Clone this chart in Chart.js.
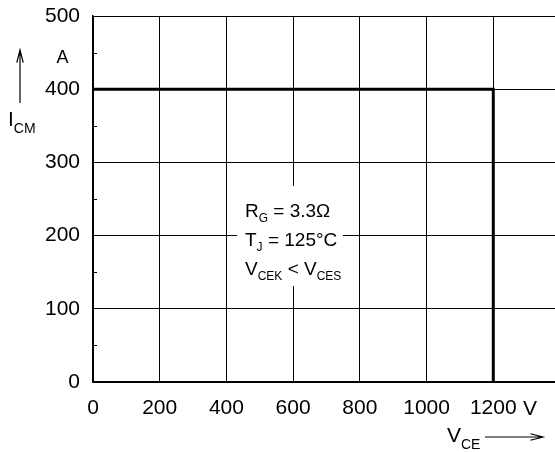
<!DOCTYPE html>
<html>
<head>
<meta charset="utf-8">
<script src="https://cdn.jsdelivr.net/npm/chart.js@4/dist/chart.umd.min.js"></script>
<style>
  html, body { margin: 0; padding: 0; background: #fff; overflow: hidden; }
  #soa { display: block; }
</style>
</head>
<body>
<canvas id="soa" width="560" height="452" style="width:560px;height:452px"></canvas>
<script>
// safe operating area: V_CE (V) vs I_CM (A)
const vce = [0, 1200, 1200];
const icm = [400, 400, 0];
const xTicks = [0, 200, 400, 600, 800, 1000, 1200, 1400];
const yTicks = [0, 100, 200, 300, 400, 500];
const notes = [
    ['R', 'G', ' = 3.3\u03A9'],
    ['T', 'J', ' = 125\u00B0C'],
    ['V', 'CEK', ' < V', 'CES']
];

const FONT = '"Liberation Sans", Arial, Helvetica, sans-serif';

// text with subscripts: parts alternate main / sub
function subText(ctx, parts, x, y, size, subSize, drop) {
    let cx = x;
    parts.forEach((p, i) => {
        const sub = i % 2 === 1;
        ctx.font = (sub ? subSize : size) + 'px ' + FONT;
        ctx.fillText(p, cx, sub ? y + drop : y);
        cx += ctx.measureText(p).width;
    });
}

function arrow(ctx, x1, y1, x2, y2) {
    const a = Math.atan2(y2 - y1, x2 - x1);
    ctx.beginPath();
    ctx.moveTo(x1, y1);
    ctx.lineTo(x2, y2);
    ctx.moveTo(x2 - 13 * Math.cos(a - 0.25), y2 - 13 * Math.sin(a - 0.25));
    ctx.lineTo(x2, y2);
    ctx.lineTo(x2 - 13 * Math.cos(a + 0.25), y2 - 13 * Math.sin(a + 0.25));
    ctx.stroke();
}

const extras = {
    id: 'extras',
    afterDatasetsDraw(chart) {
        const ctx = chart.ctx;
        const x = chart.scales.x, y = chart.scales.y;
        ctx.save();
        // minor ticks on the y axis
        ctx.strokeStyle = '#000';
        ctx.lineWidth = 1;
        for (let v = 50; v < 500; v += 100) {
            const py = Math.round(y.getPixelForValue(v)) + 0.5;
            ctx.beginPath();
            ctx.moveTo(x.left, py);
            ctx.lineTo(x.left + 4, py);
            ctx.stroke();
        }
        // note box
        ctx.fillStyle = '#fff';
        ctx.fillRect(237, 186, 106, 100);
        ctx.fillStyle = '#000';
        ctx.textBaseline = 'alphabetic';
        ctx.textAlign = 'left';
        notes.forEach((n, i) => {
            subText(ctx, n, 245, 217 + i * 29, 19, 12, 5);
        });
        // axis names
        ctx.textAlign = 'center';
        ctx.font = '18px ' + FONT;
        ctx.fillText('A', 62.5, 62.5);
        ctx.font = '21px ' + FONT;
        ctx.fillText('V', 530, 415);
        ctx.textAlign = 'left';
        subText(ctx, ['I', 'CM'], 8, 126, 21, 14, 7);
        subText(ctx, ['V', 'CE'], 447, 442, 21, 14, 7);
        ctx.lineWidth = 1.2;
        arrow(ctx, 20, 103, 20, 50);
        arrow(ctx, 485, 437, 543, 437);
        ctx.restore();
    }
};

new Chart(document.getElementById('soa'), {
    type: 'line',
    data: {
        datasets: [{
            data: vce.map((v, i) => ({ x: v, y: icm[i] })),
            borderColor: '#000',
            borderWidth: 3,
            pointRadius: 0,
            tension: 0,
            fill: false
        }]
    },
    options: {
        responsive: false,
        animation: false,
        layout: { padding: { top: 16, left: 0, right: 0, bottom: 0 } },
        plugins: { legend: { display: false }, tooltip: { enabled: false } },
        scales: {
            x: {
                type: 'linear',
                min: 0, max: 1400,
                afterBuildTicks: s => { s.ticks = xTicks.map(v => ({ value: v })); },
                afterFit: s => { s.height = 70; s.paddingLeft = 0; s.paddingRight = 0; },
                grid: { color: '#000', lineWidth: 1, drawTicks: false },
                border: { color: '#000', width: 1.5 },
                ticks: {
                    color: '#000', padding: 14,
                    font: { family: FONT, size: 21 },
                    maxRotation: 0,
                    callback: v => v === 1400 ? '' : String(v)
                }
            },
            y: {
                min: 0, max: 500,
                afterBuildTicks: s => { s.ticks = yTicks.map(v => ({ value: v })); },
                afterFit: s => { s.width = 93; s.paddingTop = 0; s.paddingBottom = 0; },
                grid: { color: '#000', lineWidth: 1, drawTicks: false },
                border: { color: '#000', width: 1.5 },
                ticks: {
                    color: '#000', padding: 13,
                    font: { family: FONT, size: 21 }
                }
            }
        }
    },
    plugins: [extras]
});
</script>
</body>
</html>
